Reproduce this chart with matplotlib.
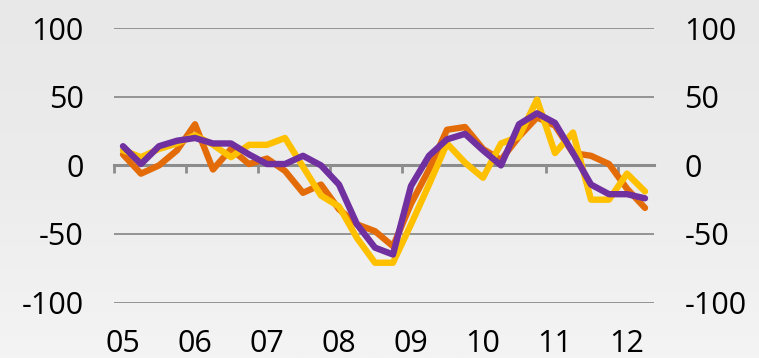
import matplotlib
matplotlib.use("Agg")
import matplotlib.pyplot as plt
import numpy as np

# Quarterly data 2005Q1 .. 2012Q2
year_labels = ["05", "06", "07", "08", "09", "10", "11", "12"]
orange = [8, -6, 0, 11, 30, -3, 12, 1, 5, -4, -20, -14, -32, -43, -48,
          -59, -28, -3, 26, 28, 12, 4, 21, 35, 29, 9, 7, 1, -17, -31]
yellow = [11, 6, 12, 16, 22, 15, 6, 15, 15, 20, -1, -22, -30, -53, -71,
          -71, -43, -14, 16, 2, -9, 16, 21, 48, 9, 24, -25, -25, -6, -19]
purple = [14, 1, 14, 18, 20, 16, 16, 8, 1, 1, 7, 0, -14, -43, -60,
          -65, -15, 7, 19, 23, 11, 0, 30, 38, 31, 9, -14, -21, -21, -24]
y_ticks = [-100, -50, 0, 50, 100]

plt.rcParams['font.family'] = ['Open Sans', 'DejaVu Sans']

W, H = 759, 358
fig = plt.figure(figsize=(W / 100, H / 100), dpi=100)

# background gradient
bg = fig.add_axes([0, 0, 1, 1], zorder=-10)
grad = np.linspace(0, 1, 256).reshape(-1, 1)
bg.imshow(grad, aspect='auto', cmap=matplotlib.colors.LinearSegmentedColormap.from_list(
    'bg', ['#e8e8e8', '#ececec', '#f4f4f4']), extent=[0, 1, 0, 1], origin='upper')
bg.axis('off')

left, right = 114 / W, 654 / W
bottom, top = 1 - 302.5 / H, 1 - 28.3 / H
ax = fig.add_axes([left, bottom, right - left, top - bottom])
ax.patch.set_alpha(0)

n = len(orange)
x = np.arange(n)
ax.set_xlim(-0.5, n - 0.5)
ax.set_ylim(-100, 100)

for v in y_ticks:
    if v != 0:
        ax.axhline(v, color='#8c8c8c', lw=1.3, zorder=1)

for s in ax.spines.values():
    s.set_visible(False)

ax.set_yticks(y_ticks)
ax.set_yticklabels([str(v) for v in y_ticks])
ax.tick_params(axis='y', length=0, pad=22, labelsize=22, labelright=True,
               labelleft=True, colors='black')

ax.set_xticks(x[::4])
ax.set_xticklabels(year_labels)
ax.tick_params(axis='x', length=0, pad=19, labelsize=22, colors='black')

# zero axis with tick marks at year boundaries
sec = ax.secondary_xaxis(0.5)
for s in sec.spines.values():
    s.set_color('#8c8c8c')
    s.set_linewidth(2.2)
sec.set_xticks(np.arange(-0.5, n - 0.5, 4))
sec.tick_params(axis='x', which='both', direction='in', length=6, width=2,
                color='#8c8c8c', labeltop=False, labelbottom=False)

kw = dict(lw=4.6, solid_joinstyle='round', solid_capstyle='round', zorder=3)
ax.plot(x, orange, color='#E36C09', **kw)
ax.plot(x, yellow, color='#FFC000', **kw)
ax.plot(x, purple, color='#7030A0', **kw)

fig.savefig('out.png', dpi=100)
